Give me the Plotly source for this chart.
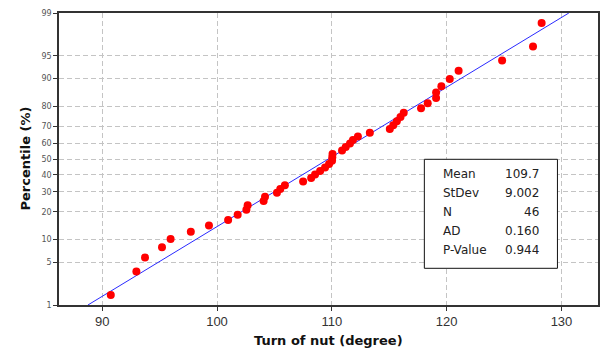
import plotly.graph_objects as go
from statistics import NormalDist

# ---- data ----
turn_of_nut = [90.75, 92.98, 93.73, 95.21, 95.96, 97.72, 99.30, 100.97, 101.80, 102.56,
               102.67, 104.06, 104.18, 105.22, 105.51, 105.91, 107.50, 108.20, 108.54, 108.98,
               109.41, 109.76, 110.02, 110.04, 110.06, 110.89, 111.21, 111.58, 111.84, 112.27,
               113.31, 115.05, 115.35, 115.66, 115.98, 116.26, 117.77, 118.35, 119.08, 119.08,
               119.54, 120.27, 121.04, 124.83, 127.52, 128.27]
percentile = [1.51, 3.66, 5.82, 7.97, 10.13, 12.28, 14.44, 16.59, 18.75, 20.91,
              23.06, 25.22, 27.37, 29.53, 31.68, 33.84, 35.99, 38.15, 40.30, 42.46,
              44.61, 46.77, 48.92, 51.08, 53.23, 55.39, 57.54, 59.70, 61.85, 64.01,
              66.16, 68.32, 70.47, 72.63, 74.78, 76.94, 79.09, 81.25, 83.41, 85.56,
              87.72, 89.87, 92.03, 94.18, 96.34, 98.49]
pct_ticks = [1, 5, 10, 20, 30, 40, 50, 60, 70, 80, 90, 95, 99]
x_ticks = [90, 100, 110, 120, 130]
stat_labels = ["Mean", "StDev", "N", "AD", "P-Value"]
stat_values = ["109.7", "9.002", "46", "0.160", "0.944"]
mean_val = 109.7
sd_val = 9.002

nd = NormalDist()
def z(p):
    return nd.inv_cdf(p / 100.0)

y_lo, y_hi = z(1), z(99)
x_range = [86.24, 133.18]

fig = go.Figure()

# fitted normal line
line_z = [y_lo, y_hi]
line_x = [mean_val + sd_val * t for t in line_z]
fig.add_trace(go.Scatter(x=line_x, y=line_z, mode="lines",
                         line=dict(color="#2a2aff", width=1), hoverinfo="skip"))

fig.add_trace(go.Scatter(x=turn_of_nut, y=[z(p) for p in percentile], mode="markers",
                         marker=dict(color="#ff0000", size=8, line=dict(width=0))))

grid = dict(showgrid=True, gridcolor="#c4c4c4", gridwidth=1, griddash="5px,3px")

fig.update_xaxes(range=x_range, tickvals=x_ticks, ticktext=[str(v) for v in x_ticks],
                 ticks="outside", ticklen=4, tickcolor="#333",
                 tickfont=dict(family="Liberation Sans", size=13, color="#333"),
                 showline=True, linecolor="#333", linewidth=1.5, mirror=True,
                 zeroline=False, **grid)
fig.update_yaxes(range=[y_lo, y_hi], tickvals=[z(p) for p in pct_ticks],
                 ticktext=[str(p) for p in pct_ticks],
                 ticks="outside", ticklen=4, tickcolor="#333",
                 tickfont=dict(family="DejaVu Sans", size=8, color="#555"),
                 showline=True, linecolor="#333", linewidth=1.5, mirror=True,
                 zeroline=False, **grid)

annotations = [
    dict(text="<b>Turn of nut (degree)</b>", xref="paper", yref="paper", x=0.5, y=-0.12,
         xanchor="center", yanchor="middle", showarrow=False,
         font=dict(family="DejaVu Sans", size=13, color="#111")),
    dict(text="<b>Percentile (%)</b>", xref="paper", yref="paper", x=-0.064, y=0.5,
         xanchor="center", yanchor="middle", showarrow=False, textangle=-90,
         font=dict(family="DejaVu Sans", size=13, color="#111")),
]

# statistics box
box_x0, box_x1 = 425.7, 559.3
box_y0, box_y1 = 159.3, 268.3
W, H = 601, 349
L, R, T, B = 59, 1, 13, 44
pw, ph = W - L - R, H - T - B
def px2paper_x(px):
    return (px - L) / pw
def px2paper_y(py):
    return 1 - (py - T) / ph

shapes = [dict(type="rect", xref="paper", yref="paper",
               x0=px2paper_x(box_x0), x1=px2paper_x(box_x1),
               y0=px2paper_y(box_y1), y1=px2paper_y(box_y0),
               line=dict(color="#111", width=1), fillcolor="white", layer="above")]
row_y = [174, 193.3, 212.3, 230.7, 250]
for lab, val, ry in zip(stat_labels, stat_values, row_y):
    annotations.append(dict(text=lab, xref="paper", yref="paper", x=px2paper_x(442), y=px2paper_y(ry),
                            xanchor="left", yanchor="middle", showarrow=False,
                            font=dict(family="DejaVu Sans", size=12, color="#222")))
    annotations.append(dict(text=val, xref="paper", yref="paper", x=px2paper_x(542.5), y=px2paper_y(ry),
                            xanchor="right", yanchor="middle", showarrow=False,
                            font=dict(family="DejaVu Sans", size=12, color="#222")))

fig.update_layout(width=W, height=H, margin=dict(l=L, r=R, t=T, b=B),
                  paper_bgcolor="white", plot_bgcolor="white", showlegend=False,
                  annotations=annotations, shapes=shapes)

fig.write_html("out.html")
